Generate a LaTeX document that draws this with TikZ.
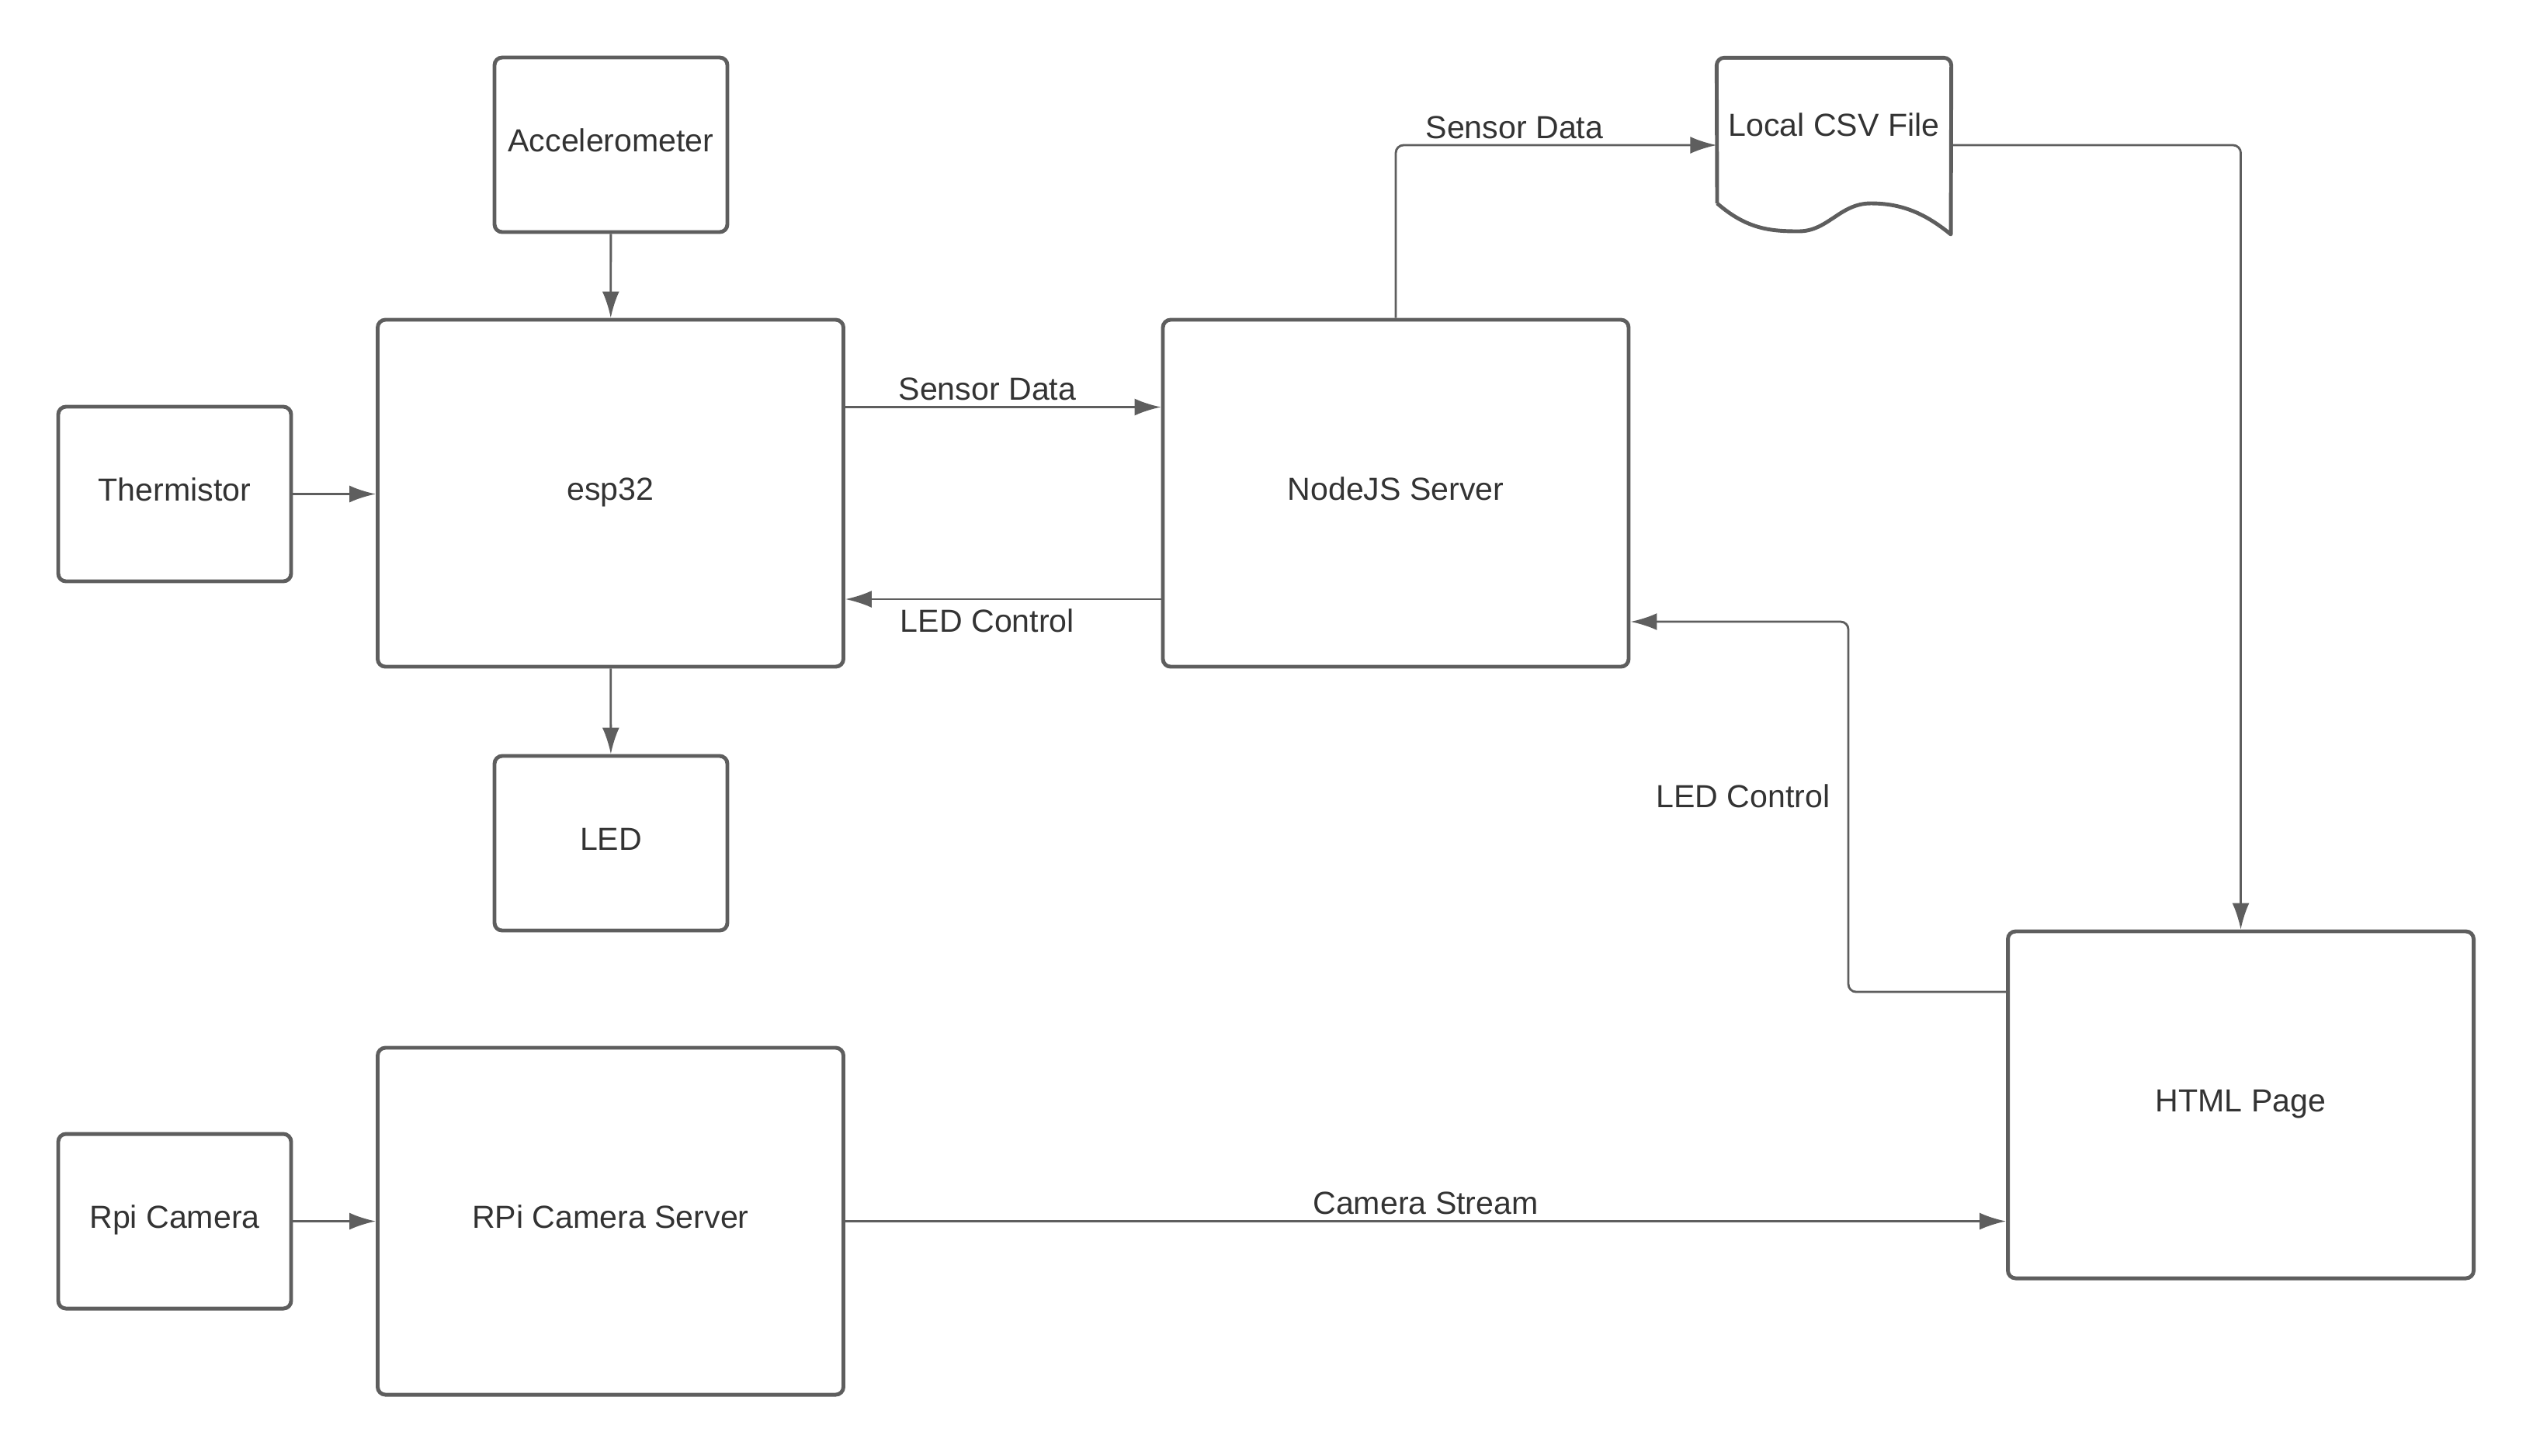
\documentclass[tikz,border=0pt]{standalone}
\usepackage{fontspec}
\setmainfont{Liberation Sans}
\usetikzlibrary{arrows.meta}
\definecolor{linegray}{HTML}{5E5E5E}
\definecolor{textgray}{HTML}{333333}
\begin{document}
\begin{tikzpicture}[
		font=\fontsize{11.7}{14}\selectfont,
		box/.style={rectangle,draw=linegray,line width=1.4pt,rounded corners=0.1cm,text=textgray,align=center,text height=0.73em,text depth=0.2em},
		smallbox/.style={box,minimum width=3cm,minimum height=2.25cm},
		bigbox/.style={box,minimum width=6cm,minimum height=4.47cm},
		link/.style={draw=linegray,line width=0.8pt,rounded corners=0.1cm,-{Latex[length=0.34cm,width=0.22cm]}},
		lbl/.style={text=textgray,inner sep=2pt}
		]
	\useasboundingbox (0,0) rectangle (32.63,-18.75);
	% left column
	\node [smallbox] (accel) at (7.87,-1.865) {Accelerometer};
	\node [bigbox] (esp) at (7.865,-6.355) {esp32};
	\node [smallbox] (therm) at (2.25,-6.365) {Thermistor};
	\node [smallbox] (led) at (7.87,-10.865) {LED};
	\node [smallbox] (rpicam) at (2.25,-15.735) {Rpi Camera};
	\node [bigbox] (camserver) at (7.865,-15.735) {RPi Camera Server};
	% right side
	\node [bigbox] (nodejs) at (17.98,-6.355) {NodeJS Server};
	\node [bigbox] (html) at (28.865,-14.235) {HTML Page};
	% csv file
	\node [minimum width=3.01cm,minimum height=2.24cm] (csv) at (23.625,-1.87) {};
	\node [lbl] (csvtext) at ([yshift=0.26cm]csv.center) {Local CSV File};
	\draw [draw=linegray,line width=1.4pt,line join=round]
		(22.12,-2.62) [rounded corners=0.1cm] -- (csv.north west) -- (csv.north east) [sharp corners] -- (25.13,-3.02)
		.. controls (24.80,-2.75) and (24.50,-2.62) .. (24.10,-2.62)
		.. controls (23.70,-2.62) and (23.55,-2.98) .. (23.17,-2.98)
		.. controls (22.80,-2.98) and (22.50,-2.95) .. (22.12,-2.62);
	% connectors
	\draw [link] (accel) -- (esp);
	\draw [link] (therm) -- (esp.west |- therm);
	\draw [link] (esp) -- (led);
	\draw [link] ([yshift=1.11cm]esp.east) -- node [lbl,above,pos=0.45] {Sensor Data} ([yshift=1.11cm]nodejs.west);
	\draw [link] ([yshift=-1.365cm]nodejs.west) -- node [lbl,below,pos=0.55,text depth=0.2em,yshift=-0.04cm] {LED Control} ([yshift=-1.365cm]esp.east);
	\draw [link] (nodejs.north) |- node [lbl,above,pos=0.685] {Sensor Data} (csv.west);
	\draw [link] (csv.east) -| (html.north);
	\coordinate (bend) at (23.81,-8.01);
	\draw [link] ([yshift=1.455cm]html.west) -| (bend) -- (nodejs.east |- bend);
	\node [lbl,anchor=east] (ledlbl) at (23.65,-10.26) {LED Control};
	\draw [link] (rpicam) -- (camserver);
	\draw [link] (camserver) -- node [lbl,above] {Camera Stream} (html.west |- camserver);
\end{tikzpicture}
\end{document}
